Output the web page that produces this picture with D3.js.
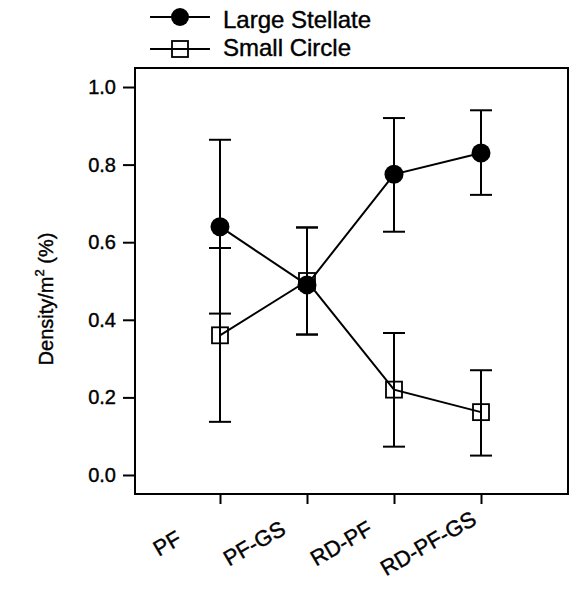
<!DOCTYPE html>
<html>
<head>
<meta charset="utf-8">
<script src="https://cdn.jsdelivr.net/npm/d3@7"></script>
<style>
  body { margin: 0; background: #fff; }
  svg { font-family: "Liberation Sans", Arial, sans-serif; }
  text { stroke: #000; stroke-width: 0.4px; fill: #000; }
</style>
</head>
<body>
<svg id="chart" width="569" height="589"></svg>
<script>
// categories and values
const categories = ["PF", "PF-GS", "RD-PF", "RD-PF-GS"];
const stellateMean = [0.64, 0.49, 0.775, 0.83];
const stellateLow = [0.416, 0.362, 0.627, 0.722];
const stellateHigh = [0.864, 0.638, 0.92, 0.94];
const circleMean = [0.36, 0.5, 0.22, 0.162];
const circleLow = [0.137, 0.362, 0.073, 0.05];
const circleHigh = [0.585, 0.638, 0.366, 0.27];
const yTicks = [0.0, 0.2, 0.4, 0.6, 0.8, 1.0];
const seriesNames = ["Large Stellate", "Small Circle"];

const svg = d3.select("#chart");
const box = { left: 135, right: 568, top: 68, bottom: 494 };

const x = d3.scalePoint().domain(categories).range([220, 481]);
const y = d3.scaleLinear().domain([-0.049, 1.049]).range([box.bottom, box.top]);

// frame
svg.append("rect")
  .attr("x", box.left).attr("y", box.top)
  .attr("width", box.right - box.left).attr("height", box.bottom - box.top)
  .attr("fill", "none").attr("stroke", "#000").attr("stroke-width", 2);

// y axis
const yAxis = svg.append("g")
  .attr("transform", `translate(${box.left},0)`)
  .call(d3.axisLeft(y).tickValues(yTicks).tickFormat(d3.format(".1f"))
    .tickSize(12).tickPadding(7));
yAxis.select(".domain").remove();
yAxis.selectAll("line").attr("stroke-width", 2);
yAxis.selectAll("text").attr("font-size", 20)
  .attr("font-family", "Liberation Sans, Arial, sans-serif");

// x axis
const xAxis = svg.append("g")
  .attr("transform", `translate(0,${box.bottom})`)
  .call(d3.axisBottom(x).tickSize(10).tickFormat(""));
xAxis.select(".domain").remove();
xAxis.selectAll("line").attr("stroke-width", 2);

svg.append("g").selectAll("text")
  .data(categories)
  .join("text")
  .attr("transform", d => `translate(${x(d) - 49},${550}) rotate(-30)`)
  .attr("text-anchor", "middle")
  .attr("font-size", 22)
  .text(d => d);

// y title
const title = svg.append("text")
  .attr("transform", "translate(53,299) rotate(-90)")
  .attr("text-anchor", "middle")
  .attr("font-size", 20);
title.append("tspan").text("Density/m");
title.append("tspan").attr("font-size", 13).attr("dy", -9).text("2");
title.append("tspan").attr("dy", 9).text(" (%)");

// series
const series = [
  { mean: circleMean, low: circleLow, high: circleHigh, shape: "square" },
  { mean: stellateMean, low: stellateLow, high: stellateHigh, shape: "circle" }
];

const line = d3.line().x((d, i) => x(categories[i])).y(d => y(d));

series.forEach(s => {
  const g = svg.append("g");
  // error bars
  categories.forEach((c, i) => {
    g.append("line")
      .attr("x1", x(c)).attr("x2", x(c))
      .attr("y1", y(s.low[i])).attr("y2", y(s.high[i]))
      .attr("stroke", "#000").attr("stroke-width", 2);
    [s.low[i], s.high[i]].forEach(v => {
      g.append("line")
        .attr("x1", x(c) - 11).attr("x2", x(c) + 11)
        .attr("y1", y(v)).attr("y2", y(v))
        .attr("stroke", "#000").attr("stroke-width", 2);
    });
  });
  g.append("path").attr("d", line(s.mean))
    .attr("fill", "none").attr("stroke", "#000").attr("stroke-width", 2);
});

// markers, squares first so the filled circles sit on top
series.forEach(s => {
  s.mean.forEach((v, i) => {
    if (s.shape === "circle") {
      svg.append("circle").attr("cx", x(categories[i])).attr("cy", y(v))
        .attr("r", 9.5).attr("fill", "#000");
    } else {
      svg.append("rect").attr("x", x(categories[i]) - 8).attr("y", y(v) - 8)
        .attr("width", 16).attr("height", 16)
        .attr("fill", "none").attr("stroke", "#000").attr("stroke-width", 1.8);
    }
  });
});

// legend
const legendRows = [
  { markY: 17, textY: 28 },
  { markY: 49, textY: 56 }
];
seriesNames.forEach((name, i) => {
  const r = legendRows[i];
  svg.append("line").attr("x1", 150).attr("x2", 210)
    .attr("y1", r.markY).attr("y2", r.markY)
    .attr("stroke", "#000").attr("stroke-width", 2);
  if (i === 0) {
    svg.append("circle").attr("cx", 180).attr("cy", r.markY).attr("r", 9).attr("fill", "#000");
  } else {
    svg.append("rect").attr("x", 172).attr("y", r.markY - 8).attr("width", 16).attr("height", 16)
      .attr("fill", "none").attr("stroke", "#000").attr("stroke-width", 1.8);
  }
  svg.append("text").attr("x", 223).attr("y", r.textY)
    .attr("font-size", 24).text(name);
});
</script>
</body>
</html>
